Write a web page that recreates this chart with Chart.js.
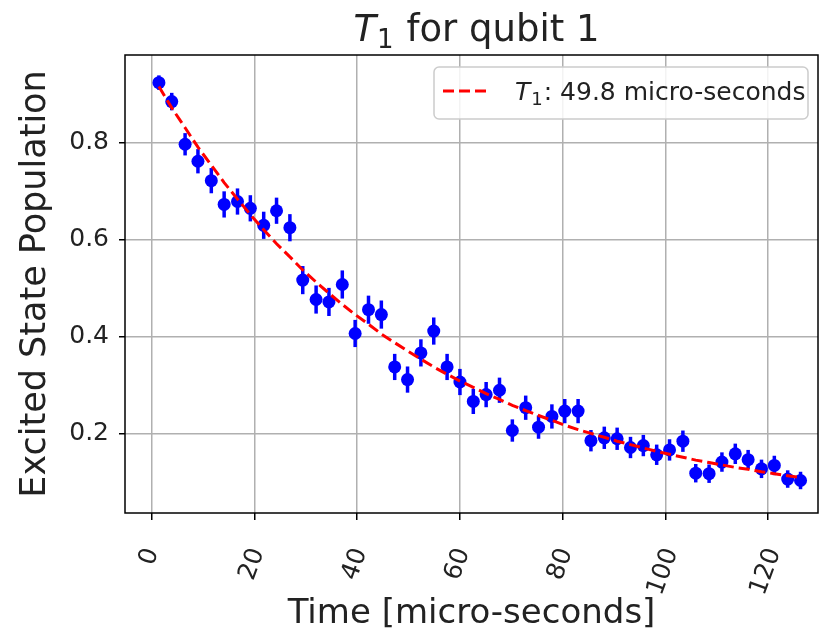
<!DOCTYPE html>
<html>
<head>
<meta charset="utf-8">
<script src="https://cdn.jsdelivr.net/npm/chart.js@4.4.0/dist/chart.umd.min.js"></script>
<style>
  body { margin: 0; background: #fff; }
  #wrap { width: 828px; height: 631px; }
</style>
</head>
<body>
<div id="wrap"><canvas id="chart" width="828" height="631"></canvas></div>
<script>
const FONT = "'DejaVu Sans', 'Liberation Sans', sans-serif";

// measured times (micro-seconds)
const times = [1.4, 3.9, 6.5, 9.0, 11.6, 14.1, 16.7, 19.2, 21.8, 24.3, 26.9, 29.4, 32.0, 34.5, 37.1, 39.6, 42.2,
  44.7, 47.3, 49.8, 52.4, 54.9, 57.5, 60.0, 62.6, 65.1, 67.7, 70.2, 72.8, 75.3, 77.9, 80.4, 83.0, 85.5, 88.1,
  90.6, 93.2, 95.7, 98.3, 100.8, 103.4, 105.9, 108.5, 111.0, 113.6, 116.1, 118.7, 121.2, 123.8, 126.3];

const population = [0.924, 0.885, 0.797, 0.762, 0.722, 0.673, 0.679, 0.665, 0.630, 0.660, 0.625, 0.517, 0.477,
  0.472, 0.508, 0.407, 0.456, 0.446, 0.338, 0.312, 0.367, 0.412, 0.338, 0.307, 0.267, 0.281, 0.290, 0.207,
  0.254, 0.214, 0.236, 0.247, 0.247, 0.186, 0.192, 0.190, 0.172, 0.176, 0.157, 0.167, 0.185, 0.119, 0.118,
  0.142, 0.159, 0.147, 0.128, 0.135, 0.107, 0.104];

const errors = [0.015, 0.018, 0.023, 0.025, 0.026, 0.027, 0.027, 0.027, 0.028, 0.027, 0.028, 0.029, 0.029,
  0.029, 0.029, 0.028, 0.029, 0.029, 0.027, 0.027, 0.028, 0.028, 0.027, 0.027, 0.026, 0.026, 0.026, 0.023,
  0.025, 0.024, 0.025, 0.025, 0.025, 0.022, 0.023, 0.023, 0.022, 0.022, 0.021, 0.022, 0.022, 0.019, 0.019,
  0.020, 0.021, 0.020, 0.019, 0.020, 0.018, 0.018];

// fitted curve
const fitValues = [0.916, 0.872, 0.831, 0.791, 0.754, 0.718, 0.684, 0.652, 0.621, 0.592, 0.565, 0.538, 0.513,
  0.490, 0.467, 0.446, 0.426, 0.406, 0.388, 0.371, 0.354, 0.338, 0.323, 0.309, 0.296, 0.283, 0.271, 0.259,
  0.248, 0.238, 0.228, 0.218, 0.209, 0.201, 0.193, 0.185, 0.178, 0.171, 0.164, 0.158, 0.152, 0.146, 0.141,
  0.136, 0.131, 0.127, 0.122, 0.118, 0.114, 0.110];

const xTicks = [0, 20, 40, 60, 80, 100, 120];
const yTicks = [0.2, 0.4, 0.6, 0.8];

const titleMain = ' for qubit 1';
const legendRest = ': 49.8 micro-seconds';
const xLabel = 'Time [micro-seconds]';
const yLabel = 'Excited State Population';

const errorBars = {
  id: 'errorBars',
  beforeDatasetsDraw(chart) {
    const { ctx, chartArea, scales } = chart;
    ctx.save();
    ctx.beginPath();
    ctx.rect(chartArea.left, chartArea.top, chartArea.width, chartArea.height);
    ctx.clip();
    ctx.strokeStyle = 'blue';
    ctx.lineWidth = 3.5;
    times.forEach((t, i) => {
      const x = scales.x.getPixelForValue(t);
      ctx.beginPath();
      ctx.moveTo(x, scales.y.getPixelForValue(population[i] - errors[i]));
      ctx.lineTo(x, scales.y.getPixelForValue(population[i] + errors[i]));
      ctx.stroke();
    });
    ctx.restore();
  }
};

// T with subscript 1, then the rest of the text
function drawT1(ctx, y, size, rest) {
  ctx.font = `italic ${size}px ${FONT}`;
  const wT = ctx.measureText('T').width;
  ctx.font = `${Math.round(size * 0.7)}px ${FONT}`;
  const w1 = ctx.measureText('1').width;
  ctx.font = `${size}px ${FONT}`;
  const wR = ctx.measureText(rest).width;
  return {
    width: wT + w1 + 2 + wR,
    draw(x0) {
      ctx.font = `italic ${size}px ${FONT}`;
      ctx.fillText('T', x0, y);
      ctx.font = `${Math.round(size * 0.7)}px ${FONT}`;
      ctx.fillText('1', x0 + wT + 1, y + size * 0.2);
      ctx.font = `${size}px ${FONT}`;
      ctx.fillText(rest, x0 + wT + w1 + 2, y);
    }
  };
}

const decorations = {
  id: 'decorations',
  afterDraw(chart) {
    const { ctx, chartArea, scales } = chart;
    ctx.save();

    // frame
    ctx.strokeStyle = '#000';
    ctx.lineWidth = 1.5;
    ctx.strokeRect(chartArea.left, chartArea.top, chartArea.width, chartArea.height);

    ctx.fillStyle = '#222';
    ctx.textBaseline = 'alphabetic';
    ctx.textAlign = 'left';

    // title
    const title = drawT1(ctx, 41, 37, titleMain);
    title.draw((chartArea.left + chartArea.right) / 2 + 5 - title.width / 2);

    // rotated x tick labels
    const ang = 70 * Math.PI / 180;
    const fs = 25;
    ctx.font = `${fs}px ${FONT}`;
    xTicks.forEach(v => {
      const px = scales.x.getPixelForValue(v);
      const w = ctx.measureText(String(v)).width;
      const boxH = w * Math.sin(ang) + fs * 0.8 * Math.cos(ang);
      ctx.save();
      ctx.translate(px - 2, chartArea.bottom + 33 + boxH / 2);
      ctx.rotate(-ang);
      ctx.textAlign = 'center';
      ctx.textBaseline = 'middle';
      ctx.fillText(String(v), 0, 0);
      ctx.restore();
    });

    // legend
    const lx = 434, ly = 67, lw = 374, lh = 52;
    ctx.beginPath();
    ctx.roundRect(lx, ly, lw, lh, 5);
    ctx.fillStyle = 'rgba(255,255,255,0.85)';
    ctx.fill();
    ctx.strokeStyle = '#cccccc';
    ctx.lineWidth = 1.5;
    ctx.stroke();

    ctx.beginPath();
    ctx.setLineDash([11, 5]);
    ctx.strokeStyle = 'red';
    ctx.lineWidth = 3;
    ctx.moveTo(443, 91);
    ctx.lineTo(490, 91);
    ctx.stroke();
    ctx.setLineDash([]);

    ctx.fillStyle = '#222';
    const leg = drawT1(ctx, 100, 25, legendRest);
    leg.draw(515);

    ctx.restore();
  }
};

new Chart(document.getElementById('chart'), {
  data: {
    datasets: [{
      type: 'line',
      label: 'fit',
      data: times.map((t, i) => ({ x: t, y: fitValues[i] })),
      borderColor: 'red',
      borderWidth: 3,
      borderDash: [11, 5],
      pointRadius: 0,
      tension: 0,
      fill: false,
      order: 0
    }, {
      type: 'scatter',
      label: 'data',
      data: times.map((t, i) => ({ x: t, y: population[i] })),
      backgroundColor: 'blue',
      borderColor: 'blue',
      borderWidth: 0,
      pointRadius: 6.5,
      order: 1
    }]
  },
  options: {
    responsive: false,
    animation: false,
    layout: { padding: { left: 0, right: 10, top: 55, bottom: 0 } },
    plugins: {
      legend: { display: false },
      tooltip: { enabled: false }
    },
    scales: {
      x: {
        type: 'linear',
        min: -5.2,
        max: 129.7,
        afterBuildTicks: scale => { scale.ticks = xTicks.map(v => ({ value: v })); },
        afterFit: scale => { scale.height = 118; },
        ticks: { display: false },
        grid: { color: '#b0b0b0', lineWidth: 1.5, tickLength: 7, tickColor: '#000', tickWidth: 1.5 },
        border: { display: false },
        title: {
          display: true,
          text: xLabel,
          color: '#222',
          font: { family: FONT, size: 34, lineHeight: 1.0 },
          padding: { top: 0, bottom: 0 }
        }
      },
      y: {
        type: 'linear',
        min: 0.037,
        max: 0.981,
        afterBuildTicks: scale => { scale.ticks = yTicks.map(v => ({ value: v })); },
        afterFit: scale => { scale.width = 125; },
        ticks: {
          color: '#222',
          font: { family: FONT, size: 25 },
          padding: 10,
          callback: v => v.toFixed(1)
        },
        grid: { color: '#b0b0b0', lineWidth: 1.5, tickLength: 6, tickColor: '#000', tickWidth: 1.5 },
        border: { display: false },
        title: {
          display: true,
          text: yLabel,
          color: '#222',
          font: { family: FONT, size: 35, lineHeight: 1.0 },
          padding: { top: 18, bottom: 0 }
        }
      }
    }
  },
  plugins: [errorBars, decorations]
});
</script>
</body>
</html>
